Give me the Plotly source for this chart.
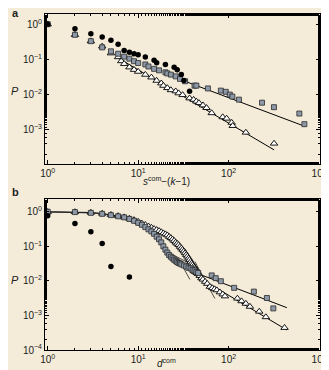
import plotly.graph_objects as go

# ---------------- Panel a data ----------------
a_dot_x = [1, 2, 3, 4, 5, 6, 7, 8, 9, 10, 12, 15, 16, 20, 25, 27, 30, 32, 37]
a_dot_y = [1.0, 0.74, 0.54, 0.43, 0.35, 0.27, 0.18, 0.16, 0.146, 0.135, 0.118, 0.095,
           0.08, 0.072, 0.06, 0.051, 0.037, 0.025, 0.0125]

a_sq_x = [1, 2, 3, 4, 5, 6, 7, 8, 9, 10, 12, 13, 15, 17, 20, 21, 23, 26, 29, 33, 42, 44,
          59, 82, 93, 103, 110, 130, 234, 317, 605, 688]
a_sq_y = [1.0, 0.5, 0.33, 0.22, 0.17, 0.145, 0.12, 0.105, 0.089, 0.079, 0.072, 0.063,
          0.054, 0.049, 0.043, 0.040, 0.037, 0.033, 0.028, 0.024, 0.018, 0.018, 0.015,
          0.013, 0.012, 0.010, 0.0088, 0.0072, 0.0059, 0.0044, 0.0029, 0.00145]

a_tri_x = [1, 2, 3, 4, 5, 6, 6.5, 7, 8, 9, 10, 12, 14, 16, 18, 19, 21, 23, 26, 28, 31, 37,
           41, 44, 47, 52, 57, 65, 86, 95, 108, 111, 155, 318]
a_tri_y = [1.0, 0.5, 0.33, 0.235, 0.15, 0.117, 0.09, 0.075, 0.06, 0.051, 0.045, 0.037,
           0.031, 0.025, 0.021, 0.018, 0.0155, 0.0135, 0.0125, 0.011, 0.0098, 0.0079,
           0.0072, 0.0064, 0.0058, 0.005, 0.0042, 0.003, 0.0023, 0.0021, 0.0016, 0.0013,
           0.00084, 0.00041]

a_fit_sq_x = [28, 700]
a_fit_sq_y = [0.028, 0.00125]
a_fit_tri_x = [5.75, 318]
a_fit_tri_y = [0.117, 0.00027]

# ---------------- Panel b data ----------------
b_dot_x = [1, 2, 3, 4, 5, 8]
b_dot_y = [0.77, 0.46, 0.265, 0.12, 0.026, 0.013]

b_sq_dense_x = list(range(1, 31)) + [32, 34, 36, 38, 40, 42, 44, 46]
b_sq_dense_y = [1.0, 0.98, 0.93, 0.87, 0.80, 0.74, 0.69, 0.62, 0.55, 0.48, 0.42, 0.36,
                0.31, 0.27, 0.23, 0.19, 0.16, 0.13, 0.10, 0.08, 0.066, 0.056, 0.050,
                0.045, 0.041, 0.038, 0.035, 0.033, 0.032, 0.030, 0.028, 0.026, 0.024,
                0.023, 0.021, 0.020, 0.018, 0.017]
b_sq_tail_x = [65, 72, 82, 115, 190, 265, 312]
b_sq_tail_y = [0.0144, 0.012, 0.0098, 0.0063, 0.0049, 0.0032, 0.0016]

b_tri_dense_x = list(range(1, 47)) + [48, 50, 52, 55, 58, 62]
b_tri_dense_y = [1.0, 0.99, 0.95, 0.89, 0.82, 0.76, 0.70, 0.64, 0.58, 0.52, 0.46, 0.42,
                 0.38, 0.35, 0.32, 0.30, 0.28, 0.26, 0.24, 0.225, 0.21, 0.19, 0.175,
                 0.16, 0.145, 0.13, 0.12, 0.11, 0.098, 0.088, 0.08, 0.072, 0.064, 0.057,
                 0.051, 0.045, 0.041, 0.036, 0.032, 0.029, 0.026, 0.024, 0.022, 0.020,
                 0.018, 0.016, 0.014, 0.012, 0.011, 0.0095, 0.0083, 0.0068]
b_tri_tail_x = [66, 70, 74, 80, 86, 91, 125, 139, 155, 172, 218, 258, 415]
b_tri_tail_y = [0.0062, 0.0058, 0.0054, 0.0047, 0.0041, 0.0036, 0.0031, 0.0026, 0.0022,
                0.0018, 0.0013, 0.0009, 0.00044]

b_fit_sq_x = [39, 440]
b_fit_sq_y = [0.019, 0.00168]
b_fit_tri_x = [37, 440]
b_fit_tri_y = [0.018, 0.00038]
b_seg1_x = [18.8, 39]
b_seg1_y = [0.080, 0.030]
b_seg2_x = [27.4, 37.3]
b_seg2_y = [0.047, 0.011]
b_seg3_x = [42.4, 70.4]
b_seg3_y = [0.036, 0.0031]

x_tick_vals = [1, 10, 100, 1000]
x_tick_text = ["10<sup>0</sup>", "10<sup>1</sup>", "10<sup>2</sup>", "10<sup>3</sup>"]
ya_tick_vals = [1, 0.1, 0.01, 0.001]
ya_tick_text = ["10<sup>0</sup>", "10<sup>−1</sup>", "10<sup>−2</sup>", "10<sup>−3</sup>"]
yb_tick_vals = [1, 0.1, 0.01, 0.001, 0.0001]
yb_tick_text = ["10<sup>0</sup>", "10<sup>−1</sup>", "10<sup>−2</sup>", "10<sup>−3</sup>",
                "10<sup>−4</sup>"]

BG = "#f4ecd9"
SQ_FILL = "#8d99a8"
FONT = "Liberation Sans, Arial, sans-serif"

dot_m = dict(symbol="circle", size=5.5, color="black")
sq_m = dict(symbol="square", size=5, color=SQ_FILL, line=dict(color="#2a2a2a", width=0.8))
tri_m = dict(symbol="triangle-up", size=6.5, color="white", line=dict(color="black", width=0.9))
fit_l = dict(color="black", width=1)

fig = go.Figure()

def add(x, y, mode, xa, ya, marker=None, line=None):
    kw = dict(x=x, y=y, mode=mode, xaxis=xa, yaxis=ya, showlegend=False, hoverinfo="skip")
    if marker is not None:
        kw["marker"] = marker
    if line is not None:
        kw["line"] = line
    fig.add_trace(go.Scatter(**kw))

# Panel a
add(a_fit_sq_x, a_fit_sq_y, "lines", "x", "y", line=fit_l)
add(a_fit_tri_x, a_fit_tri_y, "lines", "x", "y", line=fit_l)
add(a_tri_x, a_tri_y, "markers", "x", "y", marker=tri_m)
add(a_sq_x, a_sq_y, "markers", "x", "y", marker=sq_m)
add(a_dot_x, a_dot_y, "markers", "x", "y", marker=dot_m)

# Panel b
add(b_fit_sq_x, b_fit_sq_y, "lines", "x2", "y2", line=fit_l)
add(b_fit_tri_x, b_fit_tri_y, "lines", "x2", "y2", line=fit_l)
add(b_seg1_x, b_seg1_y, "lines", "x2", "y2", line=dict(color="#222", width=0.8))
add(b_seg2_x, b_seg2_y, "lines", "x2", "y2", line=dict(color="#222", width=0.8))
add(b_seg3_x, b_seg3_y, "lines", "x2", "y2", line=dict(color="#222", width=0.8))
add(b_tri_dense_x, b_tri_dense_y, "lines+markers", "x2", "y2", marker=tri_m,
    line=dict(color="black", width=1.2))
add(b_tri_tail_x, b_tri_tail_y, "markers", "x2", "y2", marker=tri_m)
add(b_sq_dense_x, b_sq_dense_y, "lines+markers", "x2", "y2", marker=sq_m,
    line=dict(color="#333", width=0.8))
add(b_sq_tail_x, b_sq_tail_y, "markers", "x2", "y2", marker=sq_m)
add(b_dot_x, b_dot_y, "markers", "x2", "y2", marker=dot_m)

axis_common = dict(
    type="log", showline=True, linecolor="black", linewidth=1, mirror="ticks",
    ticks="inside", ticklen=4, tickcolor="black", tickwidth=1,
    minor=dict(ticks="inside", ticklen=2, tickcolor="black", showgrid=False),
    showgrid=False, zeroline=False, automargin=False,
    tickfont=dict(family=FONT, size=10, color="#222"),
)

# The page has an 8 px body margin; figure is sized so the visible window matches.
fig.update_layout(
    width=321, height=362,
    margin=dict(l=37, r=9, t=6, b=20),
    paper_bgcolor=BG, plot_bgcolor=BG,
    font=dict(family=FONT, size=10, color="#222"),
    xaxis=dict(axis_common, range=[-0.03, 3.01], tickvals=x_tick_vals,
               ticktext=x_tick_text, anchor="y"),
    yaxis=dict(axis_common, range=[-3.97, 0.29], tickvals=ya_tick_vals,
               ticktext=ya_tick_text, domain=[0.5536, 1.0], anchor="x"),
    xaxis2=dict(axis_common, range=[-0.03, 3.01], tickvals=x_tick_vals,
                ticktext=x_tick_text, anchor="y2"),
    yaxis2=dict(axis_common, range=[-4.0, 0.37], tickvals=yb_tick_vals,
                ticktext=yb_tick_text, domain=[0.0, 0.4494], anchor="x2"),
)

# page pixel -> paper coordinate (page = figure + 8 px offset)
def px_x(p):
    return (p - 45) / 275.0

def px_y(p):
    return 1 - (p - 14) / 336.0

ann = [
    dict(text="<b>a</b>", x=px_x(10), y=px_y(13), size=11, xa="left"),
    dict(text="<b>b</b>", x=px_x(10), y=px_y(192), size=11, xa="left"),
    dict(text="<i>P</i>", x=px_x(9), y=px_y(91), size=11, xa="left"),
    dict(text="<i>P</i>", x=px_x(9), y=px_y(280), size=11, xa="left"),
    dict(text="<i>s</i><sup>com</sup>−(<i>k</i>−1)", x=px_x(166), y=px_y(181), size=10,
         xa="center"),
    dict(text="<i>d</i><sup>com</sup>", x=px_x(166), y=px_y(363), size=10, xa="center"),
]
for a in ann:
    fig.add_annotation(text=a["text"], x=a["x"], y=a["y"], xref="paper", yref="paper",
                       showarrow=False, xanchor=a["xa"], yanchor="middle",
                       font=dict(family=FONT, size=a["size"], color="#222"))

fig.write_html("out.html")
